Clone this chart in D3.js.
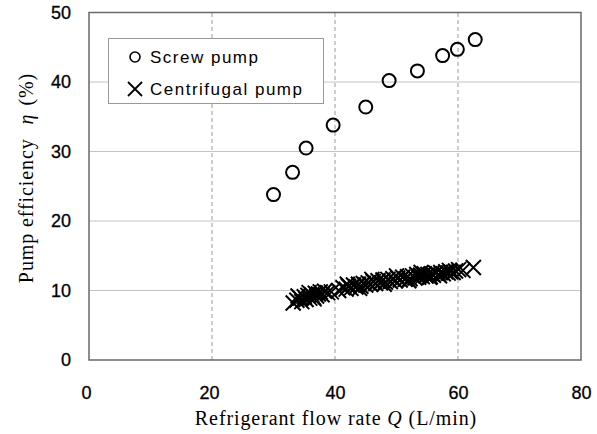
<!DOCTYPE html>
<html>
<head>
<meta charset="utf-8">
<script src="https://cdn.jsdelivr.net/npm/d3@7"></script>
<style>
  body { margin: 0; background: #fff; }
  .tick text { font-family: "Liberation Sans", Arial, sans-serif; }
</style>
</head>
<body>
<div id="chart"></div>
<script>
// screw pump
var screwQ   = [30.0, 33.1, 35.3, 39.7, 45.0, 48.8, 53.4, 57.5, 59.9, 62.8]
var screwEta = [23.8, 27.0, 30.5, 33.8, 36.4, 40.2, 41.6, 43.8, 44.7, 46.1]

// centrifugal pump (many overlapping runs)
var centQ = [33.2, 33.8, 34.3, 34.6, 35.0, 35.3, 35.6, 35.9, 36.2, 36.5, 36.8, 37.0, 37.3, 37.6, 37.9, 38.3, 38.8, 39.4,
  40.6, 41.3, 41.8, 42.2, 42.6, 43.0, 43.4, 43.8, 44.2, 44.6, 45.0, 45.4, 45.8, 46.2, 46.6, 47.0, 47.4, 47.8,
  48.2, 48.6, 49.0, 49.4, 49.8, 50.2, 50.6, 51.0, 51.4, 51.8, 52.2, 52.6, 53.0, 53.3, 53.6, 53.9, 54.2, 54.5, 54.8,
  55.1, 55.4, 55.7, 56.0, 56.4, 56.8, 57.2, 57.6, 58.0, 58.4, 58.8, 59.2, 59.6, 60.1, 60.8, 62.5,
  34.0, 35.8, 36.6, 42.0, 44.0, 46.0, 48.0, 50.0, 52.0, 54.0, 55.5, 57.0, 58.6]
var centEta = [8.2, 8.6, 8.9, 8.4, 9.1, 8.7, 9.3, 8.9, 9.4, 9.0, 9.6, 9.2, 9.5, 9.8, 9.4, 9.9, 9.7, 9.8,
  10.0, 10.4, 10.2, 10.6, 10.3, 10.8, 10.5, 10.9, 10.6, 11.0, 10.8, 11.1, 10.9, 11.3, 11.0, 11.4, 11.1, 11.5,
  11.2, 11.6, 11.3, 11.7, 11.4, 11.8, 11.5, 11.9, 11.6, 12.0, 11.7, 12.1, 11.8, 12.3, 11.9, 12.2, 12.0, 12.4, 12.1,
  12.3, 11.9, 12.4, 12.2, 12.5, 12.3, 12.6, 12.4, 12.7, 12.5, 12.7, 12.6, 12.8, 13.0, 12.9, 13.3,
  9.2, 9.7, 8.8, 10.9, 10.3, 11.6, 10.9, 12.1, 11.4, 12.6, 12.0, 12.1, 12.9]

var xTicks = [0, 20, 40, 60, 80]
var yTicks = [0, 10, 20, 30, 40, 50]

var width = 597, height = 434
var margin = {top: 12.5, right: 16, bottom: 74, left: 89}

var svg = d3.select("#chart").append("svg")
    .attr("width", width)
    .attr("height", height)

var x = d3.scaleLinear().domain([0, 80]).range([margin.left, width - margin.right])
var y = d3.scaleLinear().domain([0, 50]).range([height - margin.bottom, margin.top])

// gridlines
svg.append("g").selectAll("line")
    .data(yTicks.slice(1, -1))
    .enter().append("line")
    .attr("x1", x(0)).attr("x2", x(80))
    .attr("y1", d => y(d)).attr("y2", d => y(d))
    .attr("stroke", "#c4c4c4")
    .attr("stroke-width", 1)

svg.append("g").selectAll("line")
    .data(xTicks.slice(1, -1))
    .enter().append("line")
    .attr("x1", d => x(d)).attr("x2", d => x(d))
    .attr("y1", y(0)).attr("y2", y(50))
    .attr("stroke", "#9a9a9a")
    .attr("stroke-width", 1)
    .attr("stroke-dasharray", "4,3")

// frame
svg.append("rect")
    .attr("x", x(0)).attr("y", y(50))
    .attr("width", x(80) - x(0)).attr("height", y(0) - y(50))
    .attr("fill", "none")
    .attr("stroke", "#686868")
    .attr("stroke-width", 1.5)

// axes (labels only)
var xAxis = svg.append("g")
    .attr("transform", "translate(0," + y(0) + ")")
    .call(d3.axisBottom(x).tickValues(xTicks).tickSize(0).tickPadding(26))
xAxis.select(".domain").remove()
xAxis.selectAll("text").attr("font-size", 18).attr("fill", "#000")
    .attr("stroke", "#000").attr("stroke-width", 0.3)
    .attr("dx", d => d <= 20 ? -3 : 0)

var yAxis = svg.append("g")
    .attr("transform", "translate(" + x(0) + ",0)")
    .call(d3.axisLeft(y).tickValues(yTicks).tickSize(0).tickPadding(18))
yAxis.select(".domain").remove()
yAxis.selectAll("text").attr("font-size", 18).attr("fill", "#000")
    .attr("stroke", "#000").attr("stroke-width", 0.3)

// centrifugal markers
var s = 7.5
svg.append("g").selectAll("path")
    .data(centQ.map((q, i) => [q, centEta[i]]))
    .enter().append("path")
    .attr("d", d => {
        var cx = x(d[0]), cy = y(d[1])
        return "M" + (cx - s) + "," + (cy - s) + "L" + (cx + s) + "," + (cy + s) +
               "M" + (cx - s) + "," + (cy + s) + "L" + (cx + s) + "," + (cy - s)
    })
    .attr("stroke", "#000")
    .attr("stroke-width", 2)
    .attr("fill", "none")

// screw markers
svg.append("g").selectAll("circle")
    .data(screwQ.map((q, i) => [q, screwEta[i]]))
    .enter().append("circle")
    .attr("cx", d => x(d[0]))
    .attr("cy", d => y(d[1]))
    .attr("r", 6.5)
    .attr("fill", "none")
    .attr("stroke", "#000")
    .attr("stroke-width", 2)

// legend
var legend = svg.append("g")
legend.append("rect")
    .attr("x", 108.5).attr("y", 38.5)
    .attr("width", 215).attr("height", 65)
    .attr("fill", "#fff")
    .attr("stroke", "#999")
    .attr("stroke-width", 1)

legend.append("circle")
    .attr("cx", 135).attr("cy", 57)
    .attr("r", 5)
    .attr("fill", "none").attr("stroke", "#000").attr("stroke-width", 1.6)

legend.append("path")
    .attr("d", "M128,82L142,96M128,96L142,82")
    .attr("stroke", "#000").attr("stroke-width", 1.8)

legend.selectAll(".lt")
    .data([["Screw pump", 63], ["Centrifugal pump", 95]])
    .enter().append("text")
    .attr("x", 150).attr("y", d => d[1])
    .attr("font-family", "Liberation Sans, Arial, sans-serif")
    .attr("font-size", 17)
    .attr("letter-spacing", 1.5)
    .text(d => d[0])

// axis titles
var xt = svg.append("text")
    .attr("x", 336).attr("y", 425)
    .attr("text-anchor", "middle")
    .attr("font-family", "Liberation Serif, DejaVu Serif, serif")
    .attr("font-size", 20)
    .attr("letter-spacing", 0.9)
xt.append("tspan").text("Refrigerant flow rate ")
xt.append("tspan").attr("font-style", "italic").text("Q")
xt.append("tspan").text(" (L/min)")

var yt = svg.append("text")
    .attr("transform", "translate(33,178) rotate(-90)")
    .attr("text-anchor", "middle")
    .attr("font-family", "Liberation Serif, DejaVu Serif, serif")
    .attr("font-size", 20)
    .attr("letter-spacing", 0.9)
yt.append("tspan").text("Pump efficiency")
yt.append("tspan").attr("dx", 14).attr("font-style", "italic").text("η")
yt.append("tspan").attr("dx", 8).text("(%)")
</script>
</body>
</html>
